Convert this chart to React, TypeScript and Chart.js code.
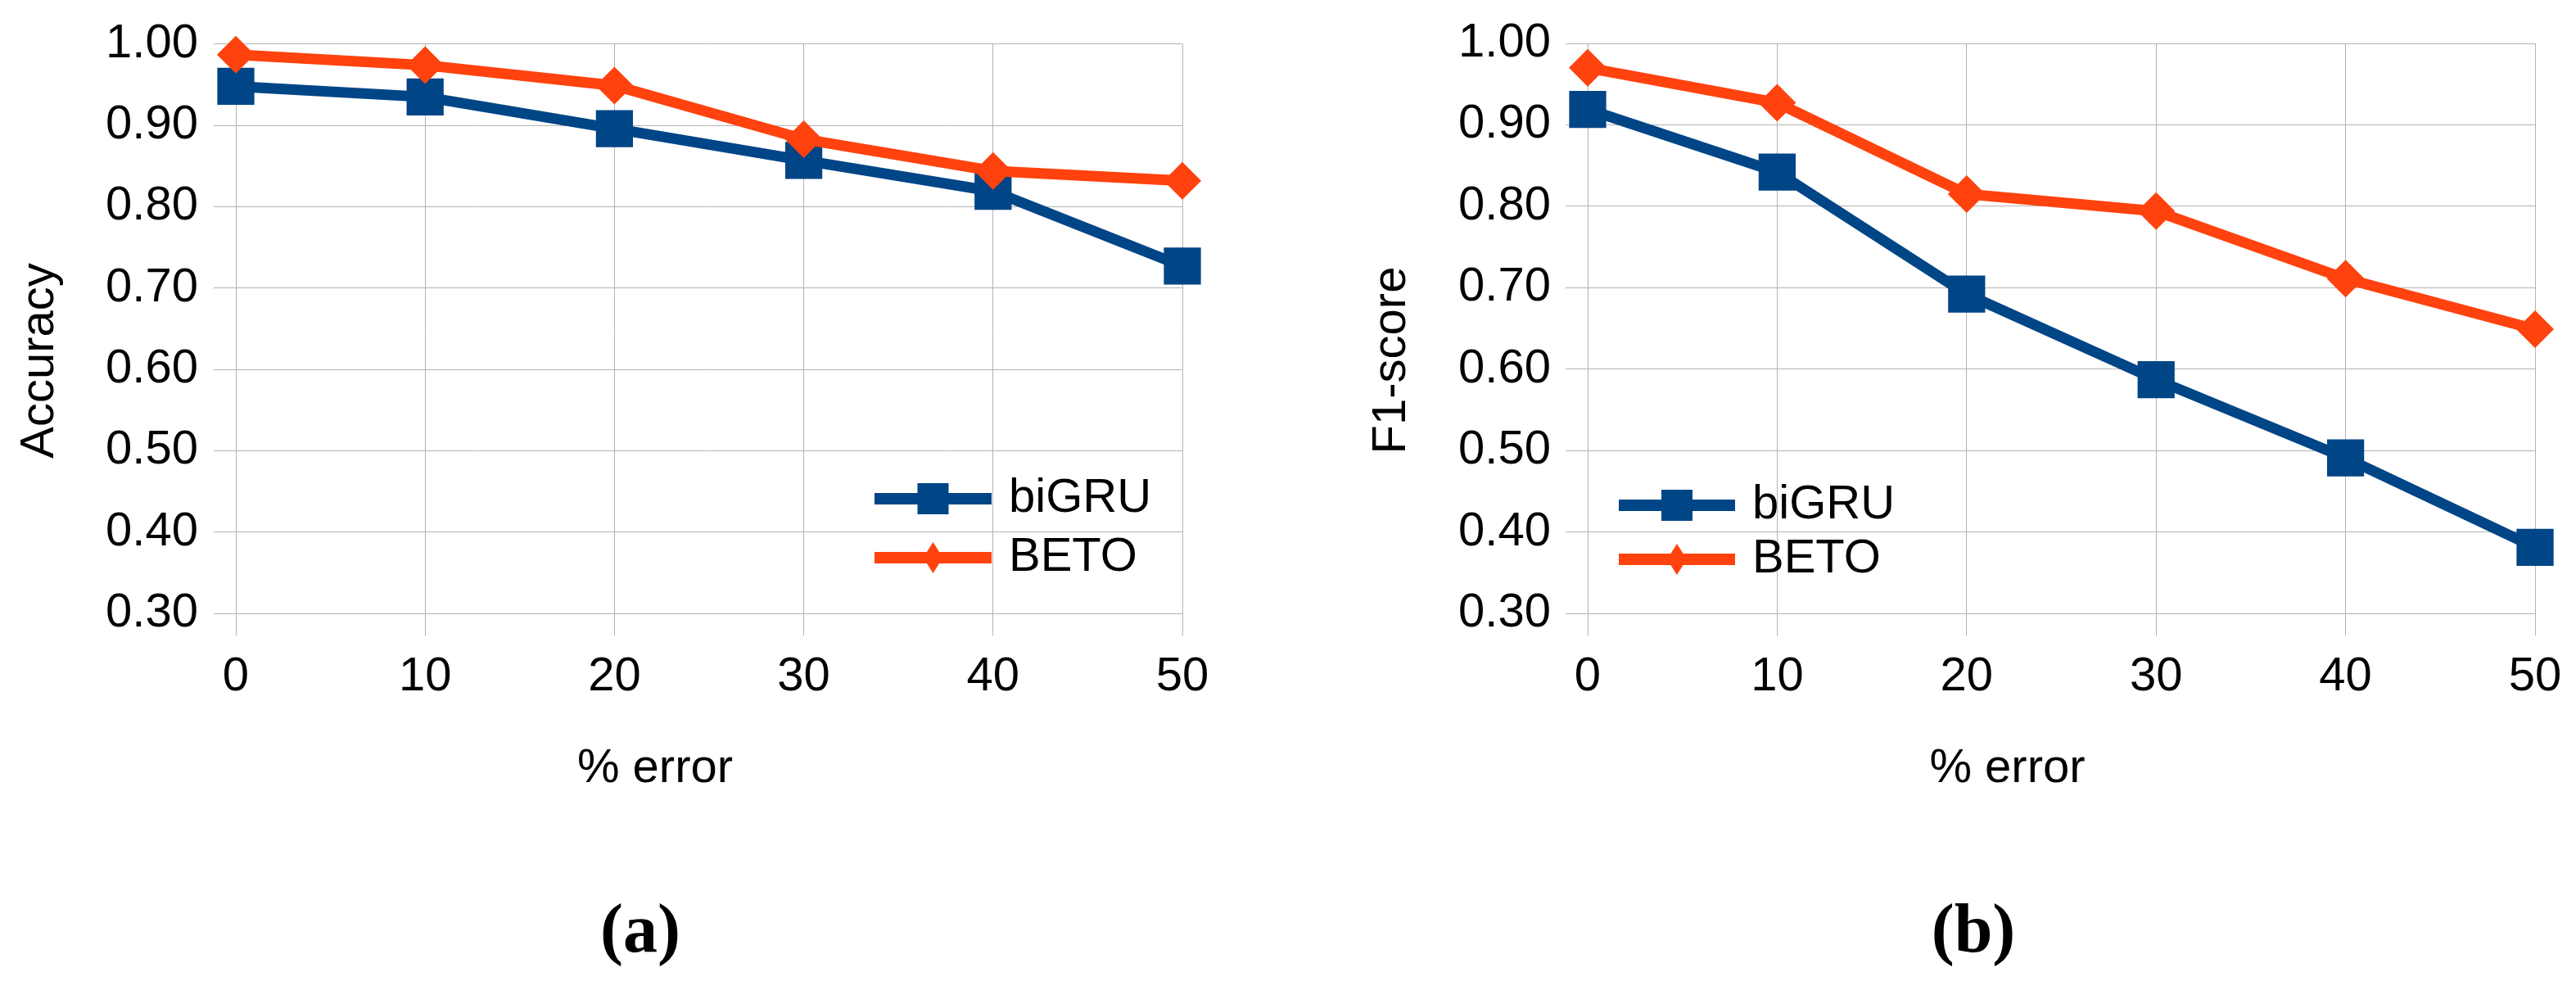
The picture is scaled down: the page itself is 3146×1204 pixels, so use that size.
import React, { useEffect, useRef } from 'react';
import { Chart, registerables } from 'chart.js';

Chart.register(...registerables);

// ---------- data ----------
const errorLevels = ['0', '10', '20', '30', '40', '50'];
const yTickValues = [0.3, 0.4, 0.5, 0.6, 0.7, 0.8, 0.9, 1.0];
const seriesNames = ['biGRU', 'BETO'];

const accuracyBiGRU = [0.948, 0.935, 0.896, 0.857, 0.819, 0.727];
const accuracyBETO = [0.987, 0.974, 0.949, 0.883, 0.844, 0.832];

const f1BiGRU = [0.919, 0.842, 0.692, 0.587, 0.491, 0.381];
const f1BETO = [0.970, 0.927, 0.815, 0.794, 0.711, 0.649];

const yTitles = ['Accuracy', 'F1-score'];
const xTitle = '% error';
const captions = ['(a)', '(b)'];

// ---------- styles ----------
const W = 1573;
const H = 1060;
const GRID = '#b3b3b3';
const BLUE = '#004586';
const ORANGE = '#ff420e';
const FONT = '"Liberation Sans", Arial, sans-serif';
const FS = 58;

const decorPlugin = {
  id: 'decor',
  afterDraw(chart: any, _args: any, opts: any) {
    const { ctx, chartArea: a } = chart;
    ctx.save();
    ctx.fillStyle = '#000';
    ctx.font = `${FS}px ${FONT}`;

    // y title
    ctx.save();
    ctx.translate(a.left + opts.yTitleDx, (a.top + a.bottom) / 2 + opts.yTitleDy);
    ctx.rotate(-Math.PI / 2);
    ctx.textAlign = 'center';
    ctx.textBaseline = 'alphabetic';
    ctx.fillText(opts.yTitle, 0, 0);
    ctx.restore();

    // x title
    ctx.textAlign = 'center';
    ctx.textBaseline = 'alphabetic';
    ctx.fillText(opts.xTitle, (a.left + a.right) / 2 + opts.xTitleDx, a.bottom + opts.xTitleDy);

    // legend
    const lg = opts.legend;
    const ax = lg.fromRight ? a.right : a.left;
    chart.data.datasets.forEach((ds: any, i: number) => {
      const y = a.bottom + lg.rowDy[i];
      const x1 = ax + lg.x1;
      const x2 = ax + lg.x2;
      const cx = (x1 + x2) / 2;
      ctx.fillStyle = ds.borderColor;
      ctx.fillRect(x1, y - 7, x2 - x1, 14);
      if (ds.pointStyle === 'rect') {
        ctx.fillRect(cx - 19, y - 19, 38, 38);
      } else {
        ctx.beginPath();
        ctx.moveTo(cx, y - 19);
        ctx.lineTo(cx + 12, y);
        ctx.lineTo(cx, y + 19);
        ctx.lineTo(cx - 12, y);
        ctx.closePath();
        ctx.fill();
      }
      ctx.fillStyle = '#000';
      ctx.textAlign = 'left';
      ctx.textBaseline = 'middle';
      ctx.fillText(ds.label, ax + lg.textX, y);
    });
    ctx.restore();
  },
};

function makeConfig(p: any) {
  return {
    type: 'line',
    data: {
      labels: errorLevels,
      datasets: [
        {
          label: seriesNames[0],
          data: p.s1,
          borderColor: BLUE,
          backgroundColor: BLUE,
          pointBackgroundColor: BLUE,
          borderWidth: 13,
          pointStyle: 'rect',
          pointRadius: 32,
          pointHoverRadius: 32,
          pointBorderWidth: 0,
          tension: 0,
          clip: false,
          order: 1,
        },
        {
          label: seriesNames[1],
          data: p.s2,
          borderColor: ORANGE,
          backgroundColor: ORANGE,
          pointBackgroundColor: ORANGE,
          borderWidth: 13,
          pointStyle: 'rectRot',
          pointRadius: 23,
          pointHoverRadius: 23,
          pointBorderWidth: 0,
          tension: 0,
          clip: false,
          order: 0,
        },
      ],
    },
    options: {
      animation: false,
      responsive: false,
      devicePixelRatio: 1,
      events: [],
      layout: { padding: { left: 0, top: 53, right: W - p.plotRight, bottom: 0 } },
      plugins: {
        legend: { display: false },
        tooltip: { enabled: false },
        decor: {
          yTitle: p.yTitle,
          xTitle,
          yTitleDx: -223,
          yTitleDy: 39,
          xTitleDx: -66,
          xTitleDy: 206,
          legend: p.legend,
        },
      },
      scales: {
        x: {
          type: 'category',
          offset: false,
          grid: { color: GRID, lineWidth: 1, drawTicks: true, tickLength: 27 },
          border: { color: GRID, width: 1 },
          ticks: {
            color: '#000',
            font: { family: FONT, size: FS },
            padding: 16,
            maxRotation: 0,
            autoSkip: false,
          },
          afterFit: (s: any) => {
            s.height = H - p.plotBottom;
          },
        },
        y: {
          min: 0.3,
          max: 1.0,
          grid: { color: GRID, lineWidth: 1, drawTicks: true, tickLength: 27 },
          border: { color: GRID, width: 1 },
          ticks: {
            color: '#000',
            font: { family: FONT, size: FS },
            padding: p.yPad,
            callback: (v: any) => Number(v).toFixed(2),
          },
          afterBuildTicks: (s: any) => {
            s.ticks = yTickValues.map((v) => ({ value: v }));
          },
          afterFit: (s: any) => {
            s.width = p.plotLeft;
          },
        },
      },
    },
    plugins: [decorPlugin],
  };
}

const panels = [
  {
    s1: accuracyBiGRU,
    s2: accuracyBETO,
    yTitle: yTitles[0],
    plotLeft: 288,
    plotRight: 1444,
    plotBottom: 749,
    yPad: 19,
    legend: { fromRight: true, x1: -376, x2: -233, textX: -212, rowDy: [-140, -68] },
  },
  {
    s1: f1BiGRU,
    s2: f1BETO,
    yTitle: yTitles[1],
    plotLeft: 366,
    plotRight: 1523,
    plotBottom: 749,
    yPad: 18,
    legend: { fromRight: false, x1: 38, x2: 180, textX: 201, rowDy: [-132, -66] },
  },
];

export default function App() {
  const refA = useRef<HTMLCanvasElement | null>(null);
  const refB = useRef<HTMLCanvasElement | null>(null);

  useEffect(() => {
    const charts: Chart[] = [];
    [refA.current, refB.current].forEach((c, i) => {
      if (c) charts.push(new Chart(c, makeConfig(panels[i]) as any));
    });
    return () => charts.forEach((ch) => ch.destroy());
  }, []);

  const captionStyle = (cx: number): React.CSSProperties => ({
    position: 'absolute',
    left: cx - 100,
    width: 200,
    top: 1092,
    textAlign: 'center',
    fontFamily: '"Liberation Serif", "Times New Roman", serif',
    fontWeight: 'bold',
    fontSize: 84,
    lineHeight: 1,
    color: '#000',
  });

  return (
    <div style={{ position: 'absolute', left: 0, top: 0, width: 3146, height: 1204, background: '#fff' }}>
      <canvas ref={refA} width={W} height={H} style={{ position: 'absolute', left: 0, top: 0, width: W, height: H }} />
      <canvas ref={refB} width={W} height={H} style={{ position: 'absolute', left: W, top: 0, width: W, height: H }} />
      <div style={captionStyle(782)}>{captions[0]}</div>
      <div style={captionStyle(2410)}>{captions[1]}</div>
    </div>
  );
}
